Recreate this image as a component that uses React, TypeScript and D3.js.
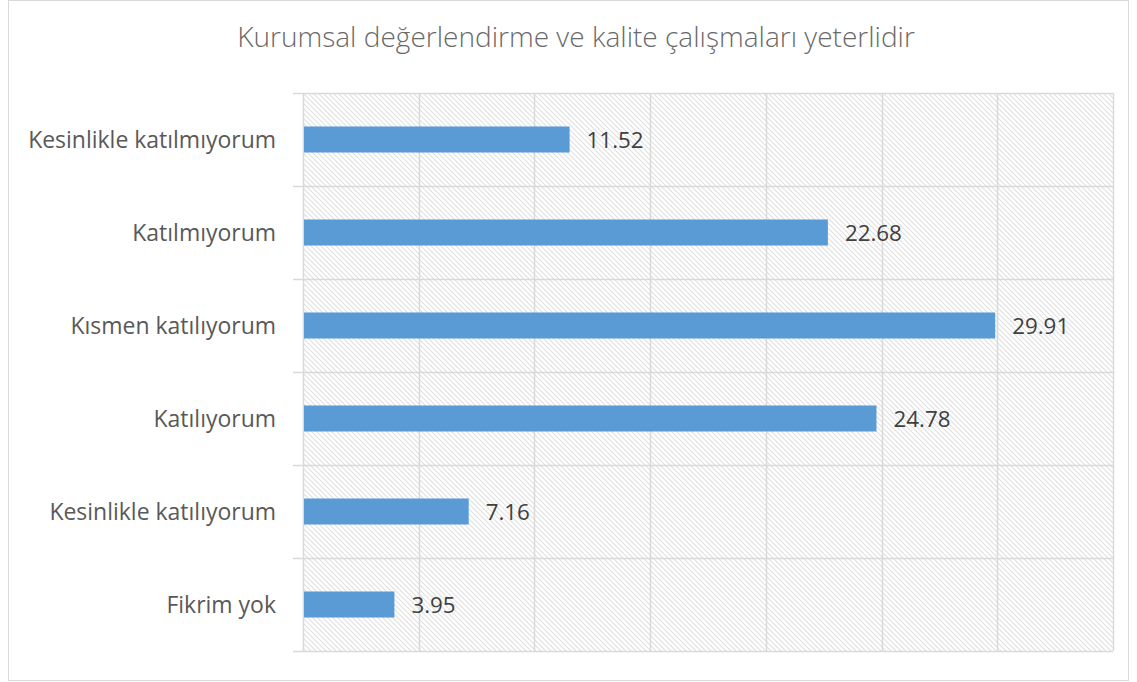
import React, { useRef, useEffect } from 'react';
import * as d3 from 'd3';

const categories = [
  'Kesinlikle katılmıyorum',
  'Katılmıyorum',
  'Kısmen katılıyorum',
  'Katılıyorum',
  'Kesinlikle katılıyorum',
  'Fikrim yok',
];
const values = [11.52, 22.68, 29.91, 24.78, 7.16, 3.95];
const xTicks = [0, 5, 10, 15, 20, 25, 30, 35];
const title = 'Kurumsal değerlendirme ve kalite çalışmaları yeterlidir';

// scale font size of a text node so it spans the wanted width
const fitWidth = (node: SVGTextElement | null, target: number, base: number) => {
  if (!node) return base;
  const w = node.getComputedTextLength();
  return w > 0 ? base * target / w : base;
};

const App = () => {
  const svgRef = useRef<SVGSVGElement>(null);

  useEffect(() => {
    const width = 1137;
    const height = 682;
    const plot = { left: 303, right: 1113, top: 93, bottom: 651 };
    const font = '"Open Sans", sans-serif';

    const svg = d3.select(svgRef.current)
      .attr('width', width)
      .attr('height', height);
    svg.selectAll('*').remove();

    const defs = svg.append('defs');
    const pat = defs.append('pattern')
      .attr('id', 'hatch')
      .attr('patternUnits', 'userSpaceOnUse')
      .attr('width', 5)
      .attr('height', 5);
    pat.append('path')
      .attr('d', 'M-1,-1 L6,6 M-1,4 L1,6 M4,-1 L6,1')
      .attr('stroke', '#e0e0e0')
      .attr('stroke-width', 1.1);

    svg.append('rect')
      .attr('x', 8.5).attr('y', 0.5)
      .attr('width', 1120).attr('height', 680)
      .attr('fill', '#fff')
      .attr('stroke', '#d9d9d9');

    const titleText = svg.append('text')
      .attr('x', 576)
      .attr('y', 47)
      .attr('text-anchor', 'middle')
      .style('font-family', font)
      .style('font-weight', 300)
      .style('font-size', '24px')
      .attr('fill', '#6a6a6a')
      .text(title);
    titleText.style('font-size', fitWidth(titleText.node(), 678, 24) + 'px');

    const x = d3.scaleLinear().domain([0, 35]).range([plot.left, plot.right]);
    const y = d3.scaleBand().domain(categories).range([plot.top, plot.bottom]).paddingInner(0.72).paddingOuter(0.36);
    const band = d3.scaleBand().domain(categories).range([plot.top, plot.bottom]);

    svg.append('rect')
      .attr('x', plot.left).attr('y', plot.top)
      .attr('width', plot.right - plot.left).attr('height', plot.bottom - plot.top)
      .attr('fill', 'url(#hatch)');

    svg.append('g')
      .selectAll('line')
      .data(xTicks)
      .enter()
      .append('line')
      .attr('x1', d => Math.round(x(d)) + 0.5)
      .attr('x2', d => Math.round(x(d)) + 0.5)
      .attr('y1', plot.top)
      .attr('y2', plot.bottom)
      .attr('stroke', '#d9d9d9')
      .attr('stroke-width', 1.5);

    const seps = categories.map(c => band(c) as number).concat([plot.bottom]);
    svg.append('g')
      .selectAll('line')
      .data(seps)
      .enter()
      .append('line')
      .attr('x1', plot.left - 10)
      .attr('x2', plot.right)
      .attr('y1', d => Math.round(d) + 0.5)
      .attr('y2', d => Math.round(d) + 0.5)
      .attr('stroke', '#d9d9d9')
      .attr('stroke-width', 1.5);

    svg.append('g')
      .selectAll('rect')
      .data(values)
      .enter()
      .append('rect')
      .attr('x', x(0) + 1)
      .attr('y', (d, i) => y(categories[i]) as number)
      .attr('width', d => x(d) - x(0) - 1)
      .attr('height', y.bandwidth())
      .attr('fill', '#5b9bd5');

    // measure a sample to size the data labels
    const probe = svg.append('text').style('font-family', font).style('font-size', '20px').text('11.52');
    const valueSize = fitWidth(probe.node(), 57, 20);
    probe.remove();

    svg.append('g')
      .selectAll('text')
      .data(values)
      .enter()
      .append('text')
      .attr('x', d => x(d) + 17)
      .attr('y', (d, i) => (band(categories[i]) as number) + band.bandwidth() / 2 + 8.5)
      .style('font-family', font)
      .style('font-size', valueSize + 'px')
      .attr('fill', '#404040')
      .text(d => d.toFixed(2));

    const probe2 = svg.append('text').style('font-family', font).style('font-size', '20px').text(categories[0]);
    const labelSize = fitWidth(probe2.node(), 248, 20);
    probe2.remove();

    svg.append('g')
      .selectAll('text')
      .data(categories)
      .enter()
      .append('text')
      .attr('x', 276)
      .attr('y', d => (band(d) as number) + band.bandwidth() / 2 + 8.5)
      .attr('text-anchor', 'end')
      .style('font-family', font)
      .style('font-size', labelSize + 'px')
      .attr('fill', '#595959')
      .text(d => d);
  }, []);

  return (
    <div>
      <svg ref={svgRef} style={{ position: 'absolute', left: 0, top: 0 }}></svg>
    </div>
  );
};

export default App;
